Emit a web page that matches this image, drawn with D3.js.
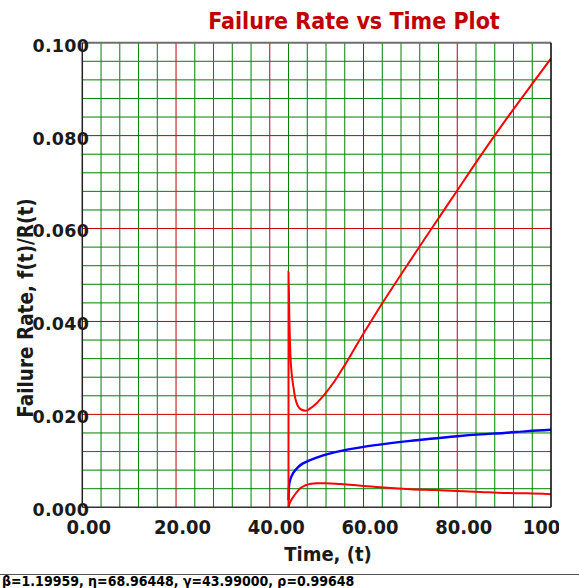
<!DOCTYPE html>
<html>
<head>
<meta charset="utf-8">
<script src="https://cdn.jsdelivr.net/npm/d3@7"></script>
<style>
  html, body { margin: 0; padding: 0; background: #fff; }
  svg { display: block; }
  .cond { font-family: "DejaVu Sans Condensed", "DejaVu Sans", sans-serif; font-stretch: condensed; font-weight: bold; }
  .wide { font-family: "DejaVu Sans", sans-serif; font-weight: bold; }
</style>
</head>
<body>
<div id="chart"></div>
<script>
// Failure rate vs time, 3-parameter Weibull with confidence bounds.
const width = 579;
const height = 588;

const xTickValues = [0, 20, 40, 60, 80, 100];
const xTickLabels = ["0.00", "20.00", "40.00", "60.00", "80.00", "100.00"];
const yTickValues = [0, 0.02, 0.04, 0.06, 0.08, 0.1];
const yTickLabels = ["0.000", "0.020", "0.040", "0.060", "0.080", "0.100"];

// failure rate (blue)
const rateT = [44.0, 44.1, 44.3, 44.6, 45.0, 46.0, 47.0, 48.0, 50.0, 52.5, 55.0, 60.0, 65.0, 70.0, 75.0, 80.0, 85.0, 90.0, 95.0, 100.0];
const rateV = [0.0015, 0.0045, 0.0057, 0.0066, 0.0074, 0.0086, 0.0094, 0.0099, 0.0107, 0.0115, 0.0121, 0.0130, 0.0137, 0.0143, 0.0148, 0.0153, 0.0157, 0.0160, 0.0164, 0.0167];

// upper bound (red)
const upperT = [43.99, 44.0, 44.15, 44.4, 44.7, 45.0, 45.5, 46.0, 46.8, 47.6, 48.5, 50.0, 51.0, 52.0, 53.0, 54.0, 55.0, 56.0, 58.0, 60.0, 62.0, 64.0, 68.0, 72.0, 76.0, 80.0, 85.0, 90.0, 95.0, 100.0];
const upperV = [0.0, 0.0507, 0.042, 0.033, 0.0285, 0.0262, 0.0232, 0.0218, 0.0210, 0.0208, 0.0212, 0.0224, 0.0235, 0.0247, 0.0260, 0.0274, 0.0290, 0.0306, 0.0340, 0.0374, 0.0407, 0.0439, 0.0501, 0.0562, 0.0622, 0.0682, 0.0757, 0.0829, 0.0898, 0.0966];

// lower bound (red)
const lowerT = [43.99, 44.3, 45.0, 45.8, 46.5, 47.5, 48.5, 50.0, 52.0, 55.0, 60.0, 65.0, 70.0, 75.0, 80.0, 85.0, 90.0, 95.0, 100.0];
const lowerV = [0.0, 0.0010, 0.0022, 0.0033, 0.0041, 0.0047, 0.0050, 0.0052, 0.0052, 0.0050, 0.0046, 0.0042, 0.0039, 0.0037, 0.0035, 0.0033, 0.0031, 0.0030, 0.0028];

const footerText = "β=1.19959, η=68.96448, γ=43.99000, ρ=0.99648";

const plot = { left: 82.3, right: 551, top: 42.7, bottom: 507.3 };

const svg = d3.select("#chart")
  .append("svg")
  .attr("width", width)
  .attr("height", height);

const x = d3.scaleLinear().domain([0, 100]).range([plot.left, plot.right]);
const y = d3.scaleLinear().domain([0, 0.1]).range([plot.bottom, plot.top]);

const defs = svg.append("defs");
defs.append("clipPath")
  .attr("id", "plot-clip")
  .append("rect")
  .attr("x", plot.left).attr("y", plot.top)
  .attr("width", plot.right - plot.left).attr("height", plot.bottom - plot.top);

defs.append("clipPath")
  .attr("id", "xlabel-clip")
  .append("rect")
  .attr("x", 0).attr("y", 0).attr("width", 559).attr("height", height);

// grid
const grid = svg.append("g");
const xMinor = d3.range(4, 100, 4);
const yMinor = d3.range(1, 25).map(k => k * 0.004);

grid.selectAll(".vx")
  .data(xMinor)
  .join("line")
  .attr("x1", d => x(d)).attr("x2", d => x(d))
  .attr("y1", plot.top).attr("y2", plot.bottom)
  .attr("stroke", d => d % 20 === 0 ? "#c00000" : "#008000")
  .attr("stroke-width", 1);

grid.selectAll(".hy")
  .data(yMinor)
  .join("line")
  .attr("x1", plot.left).attr("x2", plot.right)
  .attr("y1", d => y(d)).attr("y2", d => y(d))
  .attr("stroke", (d, i) => (i + 1) % 5 === 0 ? "#c00000" : "#008000")
  .attr("stroke-width", 1);

// curves
const line = d3.line()
  .x(d => x(d[0]))
  .y(d => y(d[1]))
  .curve(d3.curveMonotoneX);

const curves = svg.append("g").attr("clip-path", "url(#plot-clip)");

curves.append("path")
  .datum(lowerT.map((t, i) => [t, lowerV[i]]))
  .attr("fill", "none").attr("stroke", "#ff0000").attr("stroke-width", 2)
  .attr("d", line);

curves.append("path")
  .datum(rateT.map((t, i) => [t, rateV[i]]))
  .attr("fill", "none").attr("stroke", "#0000ff").attr("stroke-width", 2.4)
  .attr("d", line);

curves.append("path")
  .datum(upperT.map((t, i) => [t, upperV[i]]))
  .attr("fill", "none").attr("stroke", "#ff0000").attr("stroke-width", 2)
  .attr("d", line);

// frame
svg.append("line")
  .attr("x1", plot.left).attr("x2", plot.right)
  .attr("y1", plot.top).attr("y2", plot.top)
  .attr("stroke", "#6e6e6e").attr("stroke-width", 2);
svg.append("line")
  .attr("x1", plot.right).attr("x2", plot.right)
  .attr("y1", plot.top).attr("y2", plot.bottom)
  .attr("stroke", "#000").attr("stroke-width", 1.5);
svg.append("line")
  .attr("x1", plot.left).attr("x2", plot.left)
  .attr("y1", plot.top).attr("y2", plot.bottom)
  .attr("stroke", "#222").attr("stroke-width", 1.5);
svg.append("line")
  .attr("x1", plot.left).attr("x2", plot.right)
  .attr("y1", plot.bottom).attr("y2", plot.bottom)
  .attr("stroke", "#333").attr("stroke-width", 1.5);

// axes labels
const xAxis = svg.append("g")
  .attr("transform", `translate(0, ${plot.bottom})`)
  .attr("clip-path", "url(#xlabel-clip)")
  .call(d3.axisBottom(x).tickValues(xTickValues).tickFormat((d, i) => xTickLabels[i]).tickSize(0));
xAxis.select(".domain").remove();
xAxis.selectAll("text")
  .attr("class", "cond")
  .attr("x", 6)
  .attr("y", 27)
  .attr("dy", null)
  .attr("fill", "#1a1a1a")
  .style("font-size", "20px");

const yAxis = svg.append("g")
  .attr("transform", `translate(${plot.left}, 0)`)
  .call(d3.axisLeft(y).tickValues(yTickValues).tickFormat((d, i) => yTickLabels[i]).tickSize(0));
yAxis.select(".domain").remove();
yAxis.selectAll("text")
  .attr("class", "wide")
  .attr("x", 7)
  .attr("dy", "0.48em")
  .attr("fill", "#1a1a1a")
  .style("font-size", "17.5px")
  .style("letter-spacing", "0.3px");

svg.append("text")
  .attr("class", "cond")
  .attr("x", 354)
  .attr("y", 29)
  .attr("text-anchor", "middle")
  .attr("fill", "#c00000")
  .style("font-size", "23px")
  .text("Failure Rate vs Time Plot");

svg.append("text")
  .attr("class", "cond")
  .attr("x", 328)
  .attr("y", 561)
  .attr("text-anchor", "middle")
  .attr("fill", "#1a1a1a")
  .style("font-size", "20px")
  .text("Time, (t)");

svg.append("text")
  .attr("class", "cond")
  .attr("transform", "translate(33, 308) rotate(-90)")
  .attr("text-anchor", "middle")
  .attr("fill", "#1a1a1a")
  .style("font-size", "20.5px")
  .text("Failure Rate, f(t)/R(t)");

// footer
svg.append("line")
  .attr("x1", 0).attr("x2", width)
  .attr("y1", 574.5).attr("y2", 574.5)
  .attr("stroke", "#555").attr("stroke-width", 1);

svg.append("text")
  .attr("class", "cond")
  .attr("x", 2)
  .attr("y", 586)
  .attr("fill", "#000")
  .style("font-size", "14px")
  .text(footerText);
</script>
</body>
</html>
